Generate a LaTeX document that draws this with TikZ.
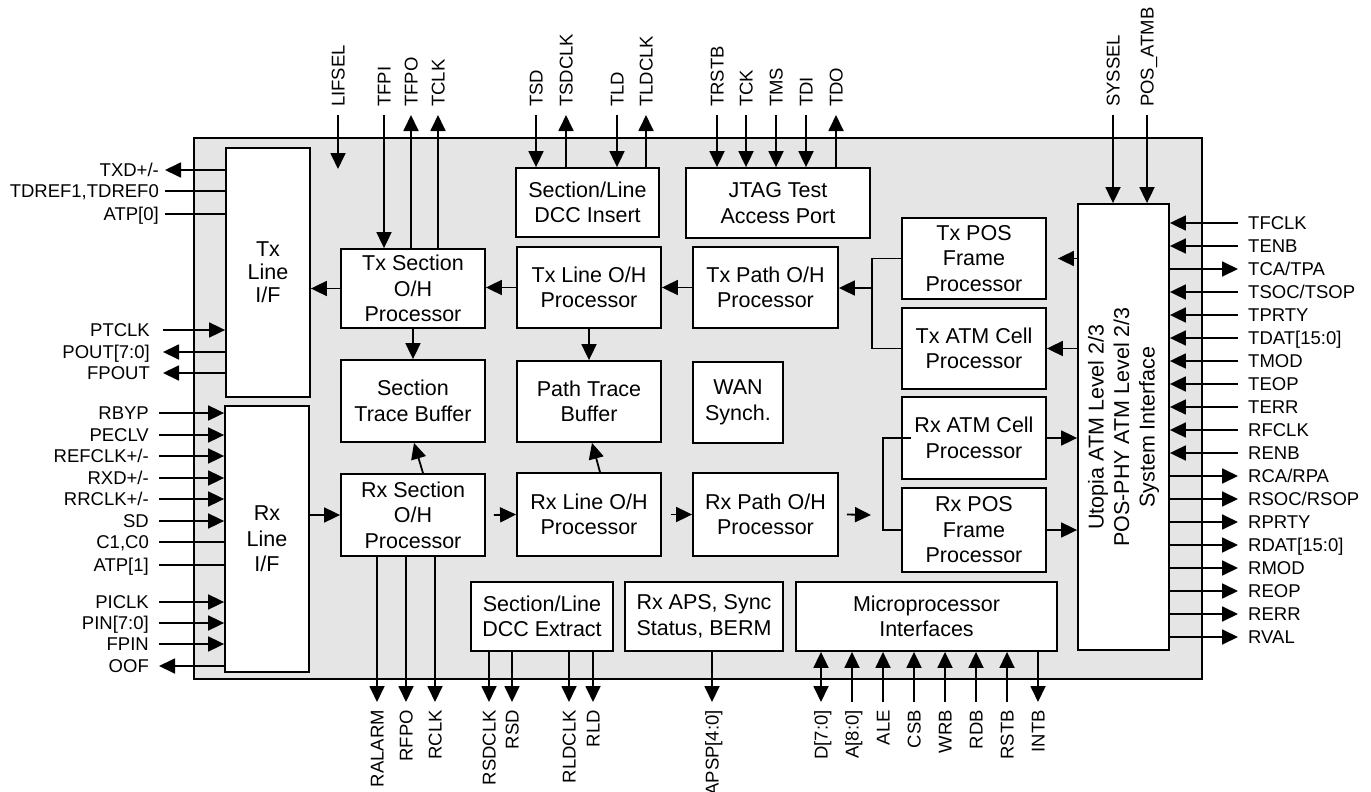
\documentclass[tikz,border=0pt]{standalone}
\usepackage{fontspec}
\setmainfont{Liberation Sans}
\usetikzlibrary{arrows.meta}
\definecolor{chipgray}{RGB}{229,229,229}
\newcommand\bfnt{\fontsize{21.5}{25.5}\selectfont}
\newcommand\lfnt{\fontsize{18.5}{22}\selectfont}
\begin{document}
\begin{tikzpicture}[x=1pt,y=-1pt,
  >={Triangle[length=16pt,width=15pt]},
  wire/.style={line width=1.8pt},
  arr/.style={wire,->},
  sigin/.style={wire,<-},
  sigout/.style={wire,->},
  sigbi/.style={wire,<->},
  blk/.style={draw,fill=white,line width=1.8pt,align=center,font=\bfnt,inner sep=0pt},
  lbl/.style={font=\lfnt,inner sep=0pt,text height=13.3pt,text depth=0pt},
  vlbl/.style={lbl,rotate=90}]
\useasboundingbox (0,0) rectangle (1371,792);
% chip
\node[draw,fill=chipgray,line width=1.8pt,minimum width=1008pt,minimum height=541pt,inner sep=0pt] (chip) at (698,408.5) {};
% blocks
\node[blk,minimum width=84pt,minimum height=249pt,font=\fontsize{21.5}{23}\selectfont] (txlif) at (268,272.5) {Tx\\Line\\I/F};
\node[blk,minimum width=84pt,minimum height=266pt] (rxlif) at (267,539) {Rx\\Line\\I/F};
\node[blk,minimum width=144pt,minimum height=79pt] (txsec) at (413,288.5) {Tx Section\\O/H\\Processor};
\node[blk,minimum width=144pt,minimum height=82pt] (stb) at (413,401) {Section\\Trace Buffer};
\node[blk,minimum width=144pt,minimum height=82pt] (rxsec) at (413,515) {Rx Section\\O/H\\Processor};
\node[blk,minimum width=143pt,minimum height=69pt] (dccins) at (587.5,202.5) {Section/Line\\DCC Insert};
\node[blk,minimum width=184pt,minimum height=70pt] (jtag) at (778,203) {JTAG Test\\Access Port};
\node[blk,minimum width=144pt,minimum height=81pt] (txline) at (589,287.5) {Tx Line O/H\\Processor};
\node[blk,minimum width=145pt,minimum height=81pt] (txpath) at (765.5,287.5) {Tx Path O/H\\Processor};
\node[blk,minimum width=144pt,minimum height=81pt] (ptb) at (589,401.5) {Path Trace\\Buffer};
\node[blk,minimum width=90pt,minimum height=81pt] (wan) at (738,402.5) {WAN\\Synch.};
\node[blk,minimum width=144pt,minimum height=83pt] (rxline) at (589,514.5) {Rx Line O/H\\Processor};
\node[blk,minimum width=145pt,minimum height=83pt] (rxpath) at (765.5,514.5) {Rx Path O/H\\Processor};
\node[blk,minimum width=144pt,minimum height=81pt] (txpos) at (974,258.5) {Tx POS\\Frame\\Processor};
\node[blk,minimum width=144pt,minimum height=81pt] (txatm) at (974,348.5) {Tx ATM Cell\\Processor};
\node[blk,minimum width=144pt,minimum height=82pt] (rxatm) at (974,438) {Rx ATM Cell\\Processor};
\node[blk,minimum width=144pt,minimum height=84pt] (rxpos) at (974,530) {Rx POS\\Frame\\Processor};
\node[blk,minimum width=91pt,minimum height=446pt] (utopia) at (1123.5,427) {};
\node[rotate=90,align=center,font=\bfnt,inner sep=0pt] (utxt) at (utopia.center) {Utopia ATM Level 2/3\\POS-PHY ATM Level 2/3\\System Interface};
\node[blk,minimum width=142pt,minimum height=69pt] (dccext) at (542,616.5) {Section/Line\\DCC Extract};
\node[blk,minimum width=158pt,minimum height=69pt] (aps) at (704,616.5) {Rx APS, Sync\\Status, BERM};
\node[blk,minimum width=261pt,minimum height=69pt] (micro) at (926.5,616.5) {Microprocessor\\Interfaces};
% internal connectors
\draw[arr] (txsec.west) -- (txlif.east |- txsec.west);
\draw[arr] (txline.west) -- (txsec.east |- txline.west);
\draw[arr] (txpath.west) -- (txline.east |- txpath.west);
\draw[arr] (txsec.south) -- (stb.north);
\draw[arr] (txline.south) -- (ptb.north);
\draw[arr] (rxlif.east |- rxsec.west) -- (rxsec.west);
\draw[arr] ([xshift=8pt]rxsec.east) -- (rxline.west);
\draw[arr] ([xshift=9pt]rxline.east) -- (rxpath.west);
\draw[arr] ([xshift=10pt]rxsec.north) -- ([xshift=1pt]stb.south);
\draw[arr] ([xshift=11pt]rxline.north) -- ([xshift=3pt]ptb.south);
\coordinate (txbr) at (872,288);
\draw[wire] (txpos.west) -| (txbr) |- (txatm.west);
\draw[arr] (txbr) -- (txpath.east |- txbr);
\coordinate (rxbr) at (883,515);
\draw[wire] ([xshift=10pt]rxatm.west) -| (rxbr) |- (rxpos.west);
\draw[arr] ([xshift=8pt]rxpath.east) -- ([xshift=-12pt]rxbr);
\draw[arr] (utopia.west |- txpos.east) -- ([xshift=11pt]txpos.east);
\draw[arr] (utopia.west |- txatm.east) -- (txatm.east);
\draw[arr] (rxatm.east) -- (utopia.west |- rxatm.east);
\draw[arr] (rxpos.east) -- (utopia.west |- rxpos.east);
% left pins
\foreach \y/\txt/\st in {170/{TXD+/-}/sigout,191/{TDREF1,TDREF0}/wire,214/{ATP[0]}/wire}{
  \node[lbl,anchor=east] (la\y) at (159,\y) {\txt};
  \draw[\st] (txlif.west |- la\y.east) -- ([xshift=6pt]la\y.east);
}
\foreach \y/\txt/\st in {330/PTCLK/sigin,352/{POUT[7:0]}/sigout,373/FPOUT/sigout}{
  \node[lbl,anchor=east] (lb\y) at (150,\y) {\txt};
  \draw[\st] (txlif.west |- lb\y.east) -- ([xshift=13pt]lb\y.east);
}
\foreach \y/\txt/\st in {413/RBYP/sigin,435/PECLV/sigin,456/{REFCLK+/-}/sigin,478/{RXD+/-}/sigin,499/{RRCLK+/-}/sigin,521/SD/sigin,542/{C1,C0}/wire,565/{ATP[1]}/wire,602/PICLK/sigin,623/{PIN[7:0]}/sigin,644/FPIN/sigin,666/OOF/sigout}{
  \node[lbl,anchor=east] (lc\y) at (149,\y) {\txt};
  \draw[\st] (rxlif.west |- lc\y.east) -- ([xshift=10pt]lc\y.east);
}
% right pins
\foreach \txt/\st [count=\i from 0] in {TFCLK/sigin,TENB/sigin,{TCA/TPA}/sigout,{TSOC/TSOP}/sigin,TPRTY/sigin,{TDAT[15:0]}/sigin,TMOD/sigin,TEOP/sigin,TERR/sigin,RFCLK/sigin,RENB/sigin,{RCA/RPA}/sigout,{RSOC/RSOP}/sigout,RPRTY/sigout,{RDAT[15:0]}/sigout,RMOD/sigout,REOP/sigout,RERR/sigout,RVAL/sigout}{
  \node[lbl,anchor=west] (r\i) at (1248,{223+23*\i}) {\txt};
  \draw[\st] (utopia.east |- r\i.west) -- ([xshift=-10pt]r\i.west);
}
% top pins
\node[vlbl,anchor=west] (tlif) at (338,107) {LIFSEL};
\coordinate (lifend) at (338,169);
\draw[arr] ([yshift=-8pt]tlif.west) -- (lifend);
\foreach \x/\txt/\st/\bx in {384/TFPI/sigin/txsec,411/TFPO/sigout/txsec,438/TCLK/sigout/txsec,536/TSD/sigin/dccins,566/TSDCLK/sigout/dccins,617/TLD/sigin/dccins,646/TLDCLK/sigout/dccins,717/TRSTB/sigin/jtag,746/TCK/sigin/jtag,776/TMS/sigin/jtag,806/TDI/sigin/jtag,836/TDO/sigout/jtag,1113/SYSSEL/sigin/utopia,1147/{POS\_ATMB}/sigin/utopia}{
  \node[vlbl,anchor=west] (t\x) at (\x,107) {\txt};
  \draw[\st] (\bx.north -| t\x.west) -- ([yshift=-8pt]t\x.west);
}
% bottom pins
\foreach \x/\txt/\st/\bx in {377/RALARM/sigout/rxsec,406/RFPO/sigout/rxsec,435/RCLK/sigout/rxsec,489/RSDCLK/sigout/dccext,512/RSD/sigout/dccext,569/RLDCLK/sigout/dccext,593/RLD/sigout/dccext,712/{APSP[4:0]}/sigout/aps,821/{D[7:0]}/sigbi/micro,852/{A[8:0]}/sigin/micro,883/ALE/sigin/micro,914/CSB/sigin/micro,945/WRB/sigin/micro,976/RDB/sigin/micro,1007/RSTB/sigin/micro,1038/INTB/sigout/micro}{
  \node[vlbl,anchor=east] (b\x) at (\x,710) {\txt};
  \draw[\st] (\bx.south -| b\x.east) -- ([yshift=8pt]b\x.east);
}
\end{tikzpicture}
\end{document}
